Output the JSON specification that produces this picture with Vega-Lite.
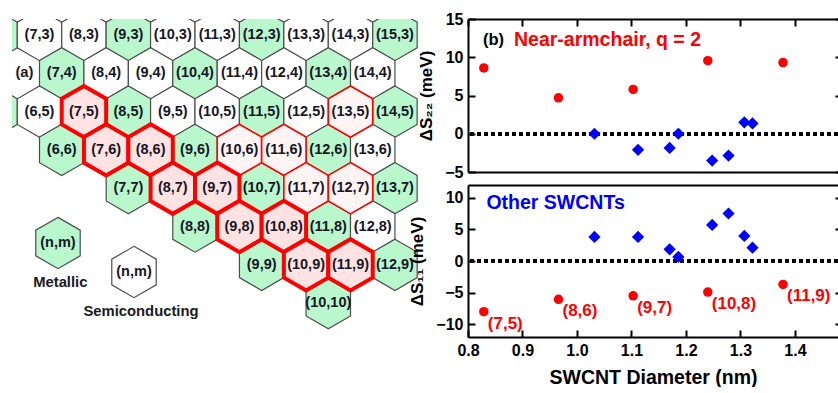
{
  "$schema": "https://vega.github.io/schema/vega-lite/v6.json",
  "padding": {"left": 12, "top": 11, "right": 0, "bottom": 0},
  "autosize": {"type": "pad"},
  "background": "#ffffff",
  "config": {
    "view": {"stroke": null},
    "font": "Liberation Sans",
    "axis": {
      "domainColor": "#000000", "domainWidth": 2, "tickColor": "#000000", "tickWidth": 2,
      "labelFont": "Liberation Sans", "labelFontWeight": "bold", "labelFontSize": 16, "labelColor": "#000000",
      "titleFont": "Liberation Sans", "titleFontWeight": "bold", "titleColor": "#000000", "grid": false, "labelFlush": false
    }
  },
  "datasets": {
    "hexes": [
      {"label":"(6,3)","col":7.5,"row":3,"kind":"metallic"},
      {"label":"(7,3)","col":8.5,"row":3,"kind":"semiconducting"},
      {"label":"(8,3)","col":9.5,"row":3,"kind":"semiconducting"},
      {"label":"(9,3)","col":10.5,"row":3,"kind":"metallic"},
      {"label":"(10,3)","col":11.5,"row":3,"kind":"semiconducting"},
      {"label":"(11,3)","col":12.5,"row":3,"kind":"semiconducting"},
      {"label":"(12,3)","col":13.5,"row":3,"kind":"metallic"},
      {"label":"(13,3)","col":14.5,"row":3,"kind":"semiconducting"},
      {"label":"(14,3)","col":15.5,"row":3,"kind":"semiconducting"},
      {"label":"(15,3)","col":16.5,"row":3,"kind":"metallic"},
      {"label":"(7,4)","col":9,"row":4,"kind":"metallic"},
      {"label":"(8,4)","col":10,"row":4,"kind":"semiconducting"},
      {"label":"(9,4)","col":11,"row":4,"kind":"semiconducting"},
      {"label":"(10,4)","col":12,"row":4,"kind":"metallic"},
      {"label":"(11,4)","col":13,"row":4,"kind":"semiconducting"},
      {"label":"(12,4)","col":14,"row":4,"kind":"semiconducting"},
      {"label":"(13,4)","col":15,"row":4,"kind":"metallic"},
      {"label":"(14,4)","col":16,"row":4,"kind":"semiconducting"},
      {"label":"(5,5)","col":7.5,"row":5,"kind":"metallic"},
      {"label":"(6,5)","col":8.5,"row":5,"kind":"semiconducting"},
      {"label":"(7,5)","col":9.5,"row":5,"kind":"near"},
      {"label":"(8,5)","col":10.5,"row":5,"kind":"metallic"},
      {"label":"(9,5)","col":11.5,"row":5,"kind":"semiconducting"},
      {"label":"(10,5)","col":12.5,"row":5,"kind":"semiconducting"},
      {"label":"(11,5)","col":13.5,"row":5,"kind":"metallic"},
      {"label":"(12,5)","col":14.5,"row":5,"kind":"semiconducting"},
      {"label":"(13,5)","col":15.5,"row":5,"kind":"other"},
      {"label":"(14,5)","col":16.5,"row":5,"kind":"metallic"},
      {"label":"(6,6)","col":9,"row":6,"kind":"metallic"},
      {"label":"(7,6)","col":10,"row":6,"kind":"near"},
      {"label":"(8,6)","col":11,"row":6,"kind":"near"},
      {"label":"(9,6)","col":12,"row":6,"kind":"metallic"},
      {"label":"(10,6)","col":13,"row":6,"kind":"other"},
      {"label":"(11,6)","col":14,"row":6,"kind":"other"},
      {"label":"(12,6)","col":15,"row":6,"kind":"metallic"},
      {"label":"(13,6)","col":16,"row":6,"kind":"semiconducting"},
      {"label":"(7,7)","col":10.5,"row":7,"kind":"metallic"},
      {"label":"(8,7)","col":11.5,"row":7,"kind":"near"},
      {"label":"(9,7)","col":12.5,"row":7,"kind":"near"},
      {"label":"(10,7)","col":13.5,"row":7,"kind":"metallic"},
      {"label":"(11,7)","col":14.5,"row":7,"kind":"other"},
      {"label":"(12,7)","col":15.5,"row":7,"kind":"other"},
      {"label":"(13,7)","col":16.5,"row":7,"kind":"metallic"},
      {"label":"(8,8)","col":12,"row":8,"kind":"metallic"},
      {"label":"(9,8)","col":13,"row":8,"kind":"near"},
      {"label":"(10,8)","col":14,"row":8,"kind":"near"},
      {"label":"(11,8)","col":15,"row":8,"kind":"metallic"},
      {"label":"(12,8)","col":16,"row":8,"kind":"semiconducting"},
      {"label":"(9,9)","col":13.5,"row":9,"kind":"metallic"},
      {"label":"(10,9)","col":14.5,"row":9,"kind":"near"},
      {"label":"(11,9)","col":15.5,"row":9,"kind":"near"},
      {"label":"(12,9)","col":16.5,"row":9,"kind":"metallic"},
      {"label":"(10,10)","col":15,"row":10,"kind":"metallic"},
      {"label":"(n,m)","col":8.916,"row":8.431,"kind":"metallic"},
      {"label":"(n,m)","col":10.627,"row":9.188,"kind":"semiconducting"}
    ],
    "tubes": [
      {"tube":"(7,5)","d":0.829,"s22":8.6,"s11":-8.0,"fam":"near"},
      {"tube":"(8,6)","d":0.966,"s22":4.7,"s11":-6.05,"fam":"near"},
      {"tube":"(9,7)","d":1.103,"s22":5.8,"s11":-5.5,"fam":"near"},
      {"tube":"(10,8)","d":1.240,"s22":9.55,"s11":-4.9,"fam":"near"},
      {"tube":"(11,9)","d":1.378,"s22":9.3,"s11":-3.7,"fam":"near"},
      {"tube":"(8,7)","d":1.032,"s22":0.0,"s11":3.8,"fam":"other"},
      {"tube":"(10,6)","d":1.112,"s22":-2.1,"s11":3.8,"fam":"other"},
      {"tube":"(9,8)","d":1.170,"s22":-1.85,"s11":1.85,"fam":"other"},
      {"tube":"(11,6)","d":1.186,"s22":0.0,"s11":0.65,"fam":"other"},
      {"tube":"(11,7)","d":1.248,"s22":-3.5,"s11":5.7,"fam":"other"},
      {"tube":"(13,5)","d":1.278,"s22":-2.85,"s11":7.5,"fam":"other"},
      {"tube":"(10,9)","d":1.307,"s22":1.5,"s11":3.95,"fam":"other"},
      {"tube":"(12,7)","d":1.322,"s22":1.35,"s11":2.1,"fam":"other"}
    ]
  },
  "spacing": 48,
  "bounds": "flush",
  "hconcat": [
    {
      "width": 408,
      "height": 330,
      "data": {"name": "hexes"},
      "layer": [
        {
          "transform": [{"filter": "datum.kind === 'metallic' || datum.kind === 'semiconducting'"}],
          "mark": {"type": "point", "shape": "M0,-1L0.866,-0.5L0.866,0.5L0,1L-0.866,0.5L-0.866,-0.5Z", "size": 2632, "filled": true, "opacity": 1, "stroke": "#4d4d4d", "strokeWidth": 1.2, "clip": true},
          "encoding": {
            "x": {"field": "col", "type": "quantitative", "scale": {"domain": [7.881, 17.064], "nice": false, "zero": false}, "axis": null},
            "y": {"field": "row", "type": "quantitative", "scale": {"domain": [2.5822, 11.1984], "nice": false, "zero": false, "reverse": true}, "axis": null},
            "fill": {"field": "kind", "type": "nominal", "scale": {"domain": ["metallic", "semiconducting", "near", "other"], "range": ["#b9f7cd", "#ffffff", "#ffe2e2", "#fff4f4"]}, "legend": null}
          }
        },
        {
          "transform": [{"filter": "datum.kind === 'other'"}],
          "mark": {"type": "point", "shape": "M0,-1L0.866,-0.5L0.866,0.5L0,1L-0.866,0.5L-0.866,-0.5Z", "size": 2632, "filled": true, "opacity": 1, "stroke": "#ff0000", "strokeWidth": 1.6, "clip": true},
          "encoding": {
            "x": {"field": "col", "type": "quantitative", "scale": {"domain": [7.881, 17.064], "nice": false, "zero": false}, "axis": null},
            "y": {"field": "row", "type": "quantitative", "scale": {"domain": [2.5822, 11.1984], "nice": false, "zero": false, "reverse": true}, "axis": null},
            "fill": {"field": "kind", "type": "nominal", "scale": {"domain": ["metallic", "semiconducting", "near", "other"], "range": ["#b9f7cd", "#ffffff", "#ffe2e2", "#fff4f4"]}, "legend": null}
          }
        },
        {
          "transform": [{"filter": "datum.kind === 'near'"}],
          "mark": {"type": "point", "shape": "M0,-1L0.866,-0.5L0.866,0.5L0,1L-0.866,0.5L-0.866,-0.5Z", "size": 2632, "filled": true, "opacity": 1, "stroke": "#ff0000", "strokeWidth": 4, "strokeJoin": "miter", "clip": true},
          "encoding": {
            "x": {"field": "col", "type": "quantitative", "scale": {"domain": [7.881, 17.064], "nice": false, "zero": false}, "axis": null},
            "y": {"field": "row", "type": "quantitative", "scale": {"domain": [2.5822, 11.1984], "nice": false, "zero": false, "reverse": true}, "axis": null},
            "fill": {"field": "kind", "type": "nominal", "scale": {"domain": ["metallic", "semiconducting", "near", "other"], "range": ["#b9f7cd", "#ffffff", "#ffe2e2", "#fff4f4"]}, "legend": null}
          }
        },
        {
          "transform": [{"filter": "datum.col >= 8"}],
          "mark": {"type": "text", "font": "Liberation Sans", "fontWeight": "bold", "fontSize": 14.5, "color": "#161626", "align": "center", "baseline": "middle", "clip": true},
          "encoding": {
            "x": {"field": "col", "type": "quantitative", "scale": {"domain": [7.881, 17.064], "nice": false, "zero": false}, "axis": null},
            "y": {"field": "row", "type": "quantitative", "scale": {"domain": [2.5822, 11.1984], "nice": false, "zero": false, "reverse": true}, "axis": null},
            "text": {"field": "label"}
          }
        },
        {
          "data": {"values": [
            {"t": "(a)", "col": 8.162, "row": 4},
            {"t": "Metallic", "col": 8.968, "row": 9.475},
            {"t": "Semiconducting", "col": 10.784, "row": 10.232}
          ]},
          "mark": {"type": "text", "font": "Liberation Sans", "fontWeight": "bold", "fontSize": 14.8, "color": "#1a1a22", "align": "center", "baseline": "middle"},
          "encoding": {
            "x": {"field": "col", "type": "quantitative", "scale": {"domain": [7.881, 17.064], "nice": false, "zero": false}, "axis": null},
            "y": {"field": "row", "type": "quantitative", "scale": {"domain": [2.5822, 11.1984], "nice": false, "zero": false, "reverse": true}, "axis": null},
            "text": {"field": "t"}
          }
        }
      ]
    },
    {
      "spacing": 13,
      "bounds": "flush",
      "vconcat": [
        {
          "width": 370,
          "height": 153,
          "data": {"name": "tubes"},
          "resolve": {"axis": {"x": "independent", "y": "independent"}},
          "layer": [
            {
              "mark": {"type": "rule", "strokeDash": [4, 3], "strokeWidth": 3, "color": "#000000"},
              "encoding": {
                "y": {"datum": 0, "type": "quantitative", "scale": {"domain": [-5, 15], "nice": false, "zero": false},
                  "axis": {"orient": "left", "values": [-5, 0, 5, 10, 15], "tickSize": -7, "labelPadding": 12, "title": "ΔS₂₂ (meV)", "titleFontSize": 17, "titlePadding": 9}}
              }
            },
            {
              "transform": [{"filter": "datum.fam === 'other'"}],
              "mark": {"type": "point", "shape": "diamond", "filled": true, "opacity": 1, "size": 150, "color": "#0000ff"},
              "encoding": {
                "x": {"field": "d", "type": "quantitative", "scale": {"domain": [0.8, 1.4789], "nice": false, "zero": false},
                  "axis": {"orient": "bottom", "labels": false, "ticks": false, "title": null}},
                "y": {"field": "s22", "type": "quantitative", "scale": {"domain": [-5, 15], "nice": false, "zero": false},
                  "axis": {"orient": "right", "labels": false, "domain": false, "tickSize": -3, "values": [-5, 0, 5, 10, 15], "title": null}}
              }
            },
            {
              "transform": [{"filter": "datum.fam === 'near'"}],
              "mark": {"type": "circle", "size": 90, "opacity": 1, "color": "#ff0000"},
              "encoding": {
                "x": {"field": "d", "type": "quantitative", "scale": {"domain": [0.8, 1.4789], "nice": false, "zero": false},
                  "axis": {"orient": "top", "labels": false, "tickSize": -7, "values": [0.8, 0.9, 1.0, 1.1, 1.2, 1.3, 1.4], "title": null}},
                "y": {"field": "s22", "type": "quantitative", "scale": {"domain": [-5, 15], "nice": false, "zero": false}, "axis": null}
              }
            },
            {
              "data": {"values": [{"t": "(b)", "d": 0.8275, "v": 12.25}]},
              "mark": {"type": "text", "font": "Liberation Sans", "fontWeight": "bold", "fontSize": 16.5, "color": "#000000", "align": "left", "baseline": "middle"},
              "encoding": {
                "x": {"field": "d", "type": "quantitative", "scale": {"domain": [0.8, 1.4789], "nice": false, "zero": false}, "axis": null},
                "y": {"field": "v", "type": "quantitative", "scale": {"domain": [-5, 15], "nice": false, "zero": false}, "axis": null},
                "text": {"field": "t"}
              }
            },
            {
              "data": {"values": [{"t": "Near-armchair, q = 2", "d": 0.8844, "v": 12.25}]},
              "mark": {"type": "text", "font": "Liberation Sans", "fontWeight": "bold", "fontSize": 19.5, "color": "#ff0000", "align": "left", "baseline": "middle"},
              "encoding": {
                "x": {"field": "d", "type": "quantitative", "scale": {"domain": [0.8, 1.4789], "nice": false, "zero": false}, "axis": null},
                "y": {"field": "v", "type": "quantitative", "scale": {"domain": [-5, 15], "nice": false, "zero": false}, "axis": null},
                "text": {"field": "t"}
              }
            }
          ]
        },
        {
          "width": 370,
          "height": 152,
          "data": {"name": "tubes"},
          "resolve": {"axis": {"x": "independent", "y": "independent"}},
          "layer": [
            {
              "mark": {"type": "rule", "strokeDash": [4, 3], "strokeWidth": 3, "color": "#000000"},
              "encoding": {
                "y": {"datum": 0, "type": "quantitative", "scale": {"domain": [-12, 12], "nice": false, "zero": false},
                  "axis": {"orient": "left", "values": [-10, -5, 0, 5, 10], "tickSize": -7, "labelPadding": 12, "title": "ΔS₁₁ (meV)", "titleFontSize": 17, "titlePadding": 9}}
              }
            },
            {
              "transform": [{"filter": "datum.fam === 'other'"}],
              "mark": {"type": "point", "shape": "diamond", "filled": true, "opacity": 1, "size": 150, "color": "#0000ff"},
              "encoding": {
                "x": {"field": "d", "type": "quantitative", "scale": {"domain": [0.8, 1.4789], "nice": false, "zero": false},
                  "axis": {"orient": "bottom", "values": [0.8, 0.9, 1.0, 1.1, 1.2, 1.3, 1.4], "format": ".1f", "tickSize": -7, "labelPadding": 12, "title": "SWCNT Diameter (nm)", "titleFontSize": 19.5, "titlePadding": 10}},
                "y": {"field": "s11", "type": "quantitative", "scale": {"domain": [-12, 12], "nice": false, "zero": false},
                  "axis": {"orient": "right", "labels": false, "domain": false, "tickSize": -3, "values": [-10, -5, 0, 5, 10], "title": null}}
              }
            },
            {
              "transform": [{"filter": "datum.fam === 'near'"}],
              "mark": {"type": "circle", "size": 90, "opacity": 1, "color": "#ff0000"},
              "encoding": {
                "x": {"field": "d", "type": "quantitative", "scale": {"domain": [0.8, 1.4789], "nice": false, "zero": false},
                  "axis": {"orient": "top", "labels": false, "ticks": false, "title": null}},
                "y": {"field": "s11", "type": "quantitative", "scale": {"domain": [-12, 12], "nice": false, "zero": false}, "axis": null}
              }
            },
            {
              "transform": [{"filter": "datum.fam === 'near'"}],
              "mark": {"type": "text", "font": "Liberation Sans", "fontWeight": "bold", "fontSize": 17, "color": "#ff0000", "align": "left", "baseline": "middle", "dx": 4, "dy": 12},
              "encoding": {
                "x": {"field": "d", "type": "quantitative", "scale": {"domain": [0.8, 1.4789], "nice": false, "zero": false}, "axis": null},
                "y": {"field": "s11", "type": "quantitative", "scale": {"domain": [-12, 12], "nice": false, "zero": false}, "axis": null},
                "text": {"field": "tube"}
              }
            },
            {
              "data": {"values": [{"t": "Other SWCNTs", "d": 0.8338, "v": 9.1}]},
              "mark": {"type": "text", "font": "Liberation Sans", "fontWeight": "bold", "fontSize": 19.5, "color": "#0000ff", "align": "left", "baseline": "middle"},
              "encoding": {
                "x": {"field": "d", "type": "quantitative", "scale": {"domain": [0.8, 1.4789], "nice": false, "zero": false}, "axis": null},
                "y": {"field": "v", "type": "quantitative", "scale": {"domain": [-12, 12], "nice": false, "zero": false}, "axis": null},
                "text": {"field": "t"}
              }
            }
          ]
        }
      ]
    }
  ]
}
